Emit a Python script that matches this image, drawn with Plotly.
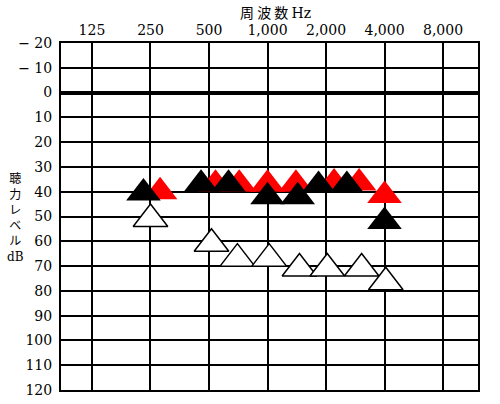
import plotly.graph_objects as go

# --- DATA ---
FREQ_TICKS = [125, 250, 500, 1000, 2000, 4000, 8000]
FREQ_LABELS = ["125", "250", "500", "1,000", "2,000", "4,000", "8,000"]
DB_TICKS = list(range(-20, 121, 10))
DB_LABELS = ["− 20", "− 10"] + [str(v) for v in range(0, 121, 10)]

black_freq = [230, 455, 630, 1000, 1430, 1830, 2560, 4000]
black_db = [40.5, 37, 37, 42, 42, 37.5, 37.5, 52]

red_freq = [280, 540, 715, 1000, 1400, 2200, 2960, 4000]
red_db = [40, 37, 37, 37, 37, 36.5, 36.5, 41.5]

white_freq = [250, 515, 700, 1020, 1460, 2030, 3050, 4060]
white_db = [51, 61, 67, 67, 71, 71, 71, 76.5]

SERIF = "DejaVu Serif, Liberation Serif, serif"
CJK = "Noto Sans CJK JP, sans-serif"
MSIZE = 30


def main():
    fig = go.Figure()

    # open triangles
    fig.add_trace(go.Scatter(
        x=white_freq, y=white_db, mode="markers",
        marker=dict(symbol="triangle-up", size=MSIZE, color="white",
                    line=dict(color="black", width=1.5)),
        cliponaxis=False,
    ))
    # red triangles
    fig.add_trace(go.Scatter(
        x=red_freq, y=red_db, mode="markers",
        marker=dict(symbol="triangle-up", size=MSIZE, color="#ff0000",
                    line=dict(width=0)),
        cliponaxis=False,
    ))
    # black triangles (on top)
    fig.add_trace(go.Scatter(
        x=black_freq, y=black_db, mode="markers",
        marker=dict(symbol="triangle-up", size=MSIZE, color="black",
                    line=dict(width=0)),
        cliponaxis=False,
    ))

    fig.update_xaxes(
        type="log", range=[1.9375, 4.083], side="top",
        tickvals=FREQ_TICKS, ticktext=FREQ_LABELS,
        tickfont=dict(family=SERIF, size=14, color="black"),
        showgrid=True, gridcolor="black", gridwidth=1.5,
        showline=True, mirror=True, linecolor="black", linewidth=2,
        ticks="", zeroline=False, automargin=False,
    )
    fig.update_yaxes(
        range=[120, -20],
        tickvals=DB_TICKS, ticktext=DB_LABELS,
        tickfont=dict(family=SERIF, size=14, color="black"),
        showgrid=True, gridcolor="black", gridwidth=1.5,
        zeroline=True, zerolinecolor="black", zerolinewidth=3.5,
        showline=True, mirror=True, linecolor="black", linewidth=2,
        ticks="outside", ticklen=4, tickcolor="white", automargin=False,
    )

    # x axis title above the tick labels
    fig.add_annotation(
        text="周 波 数 <span style='font-family:DejaVu Serif'>Hz</span>",
        xref="paper", yref="paper", x=0.5, y=1.0, xshift=6, yshift=31,
        xanchor="center", yanchor="middle", showarrow=False,
        font=dict(family=CJK, size=14, color="black"),
    )
    # stacked vertical y axis title
    fig.add_annotation(
        text="聴<br>力<br>レ<br>ベ<br>ル<br><span style='font-family:DejaVu Serif'>dB</span>",
        xref="paper", yref="y", x=0, y=50, xshift=-46,
        xanchor="center", yanchor="middle", showarrow=False,
        font=dict(family=CJK, size=12, color="black"),
    )

    fig.update_layout(
        width=500, height=404, autosize=False,
        margin=dict(l=61, r=22, t=43, b=14),
        paper_bgcolor="white", plot_bgcolor="white",
        showlegend=False,
    )
    # drop the browser's default 8px page margin so the figure sits at 0,0
    fig.write_html(
        "out.html",
        config={"displayModeBar": False, "responsive": False},
        post_script="document.body.style.margin='0';",
    )


if __name__ == "__main__":
    main()
